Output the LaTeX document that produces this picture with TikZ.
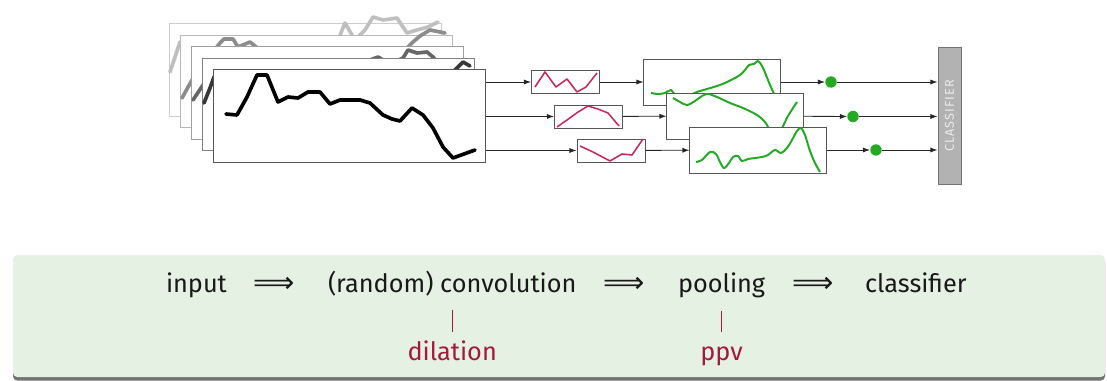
\documentclass[tikz,border=0pt]{standalone}
\usepackage{fontspec}
\setmainfont{Fira Sans}
\newfontfamily\clsfont[LetterSpace=8]{Fira Sans}
\newfontfamily\arrowfont{DejaVu Sans}
\usepackage{tikz}
\usetikzlibrary{arrows.meta,positioning,shadows}
\definecolor{panelgreen}{RGB}{229,241,226}
\definecolor{curvegreen}{RGB}{34,170,34}
\definecolor{kernelred}{RGB}{200,40,95}
\definecolor{labelred}{RGB}{165,25,60}
\definecolor{framegray}{RGB}{85,85,85}
\definecolor{clsgray}{RGB}{178,178,178}

\begin{document}
\begin{tikzpicture}[
        x=0.025cm, y=-0.025cm,
        series/.style={draw=#1, fill=white, line width=0.7pt, minimum width=6.775cm, minimum height=2.3cm, inner sep=0pt},
        kernel/.style={draw=framegray, fill=white, line width=0.7pt, minimum width=1.7cm, minimum height=0.575cm, inner sep=0pt},
        featmap/.style={draw=framegray, fill=white, line width=0.7pt, minimum width=3.4cm, minimum height=1.15cm, inner sep=0pt},
        feat/.style={circle, fill=curvegreen, minimum size=0.285cm, inner sep=0pt},
        classbox/.style={draw=black!55, fill=clsgray, line width=0.7pt, rotate=90, minimum width=3.4cm, minimum height=0.575cm, inner sep=0pt, font=\clsfont\fontsize{9}{10}\selectfont, text=black!8},
        stage/.style={anchor=base west, inner xsep=0pt, inner ysep=10pt, outer sep=0pt, text=black!90, font=\fontsize{18}{22}\selectfont},
        implies/.style={anchor=base west, inner sep=0pt, outer sep=0pt, text=black!90, font=\arrowfont\fontsize{20.5}{22}\selectfont},
        param/.style={anchor=base, text=labelred, inner ysep=6.8pt, text height=13pt, outer sep=0pt, font=\fontsize{18}{22}\selectfont},
        arr/.style={-{Latex[length=5pt,width=3.6pt]}, line width=0.6pt, black!85},
        raw/.style={line width=2.6pt, line join=round, line cap=round},
        kcurve/.style={kernelred, line width=1.1pt, line join=round},
        gcurve/.style={curvegreen, line width=1.4pt, smooth, tension=0.55}
    ]
        \useasboundingbox (0,0) rectangle (1107,381);

        % Panel
        \draw[fill=panelgreen, draw=none, rounded corners=3pt, drop shadow={shadow xshift=0pt, shadow yshift=-2.5pt, fill=black!55, opacity=1}] (13,255) rectangle (1105,377);

        % Input series, back to front
        \node[series=black!20] (series5) at (305.5,70) {};
        \draw[raw, black!25] plot coordinates {(170,72) (180,42) (190,62) (205,70) (230,75) (300,70) (330,60) (345,23) (355,40) (365,30) (373,17) (383,20) (397,18) (407,33) (417,30) (428,27) (438,22)};
        \node[series=black!28] (series4) at (316.5,81.5) {};
        \draw[raw, black!45] plot coordinates {(182,98) (192,80) (205,62) (220,43) (224,39) (233,39) (238,47) (250,42) (260,50) (277,58) (287,57) (320,70) (380,62) (400,55) (413,42) (420,36) (430,30) (445,33)};
        \node[series=black!38] (series3) at (327.5,93) {};
        \draw[raw, black!60] plot coordinates {(193,100) (203,85) (215,72) (240,68) (280,60) (330,75) (378,57) (390,64) (403,58) (408,50) (417,53) (427,52) (433,57) (445,70) (460,66)};
        \node[series=black!50] (series2) at (338.5,104.5) {};
        \draw[raw, black!78] plot coordinates {(204,103) (210,88) (214,77) (260,90) (330,85) (400,95) (440,80) (455,70) (463,62) (470,66)};
        \node[series=framegray] (series1) at (349.5,116) {};
        \draw[raw, black] plot coordinates {(226,114) (237,115) (247,97) (257,75) (267,75) (278,102) (288,97) (298,98) (308,92) (320,92) (330,104) (340,100) (360,100) (370,103) (383,115) (392,119) (400,121) (412,108) (423,115) (433,128) (443,147) (453,158) (475,150)};

        % Random kernels
        \node[kernel] (kern1) at (565.5,82) {};
        \draw[kcurve] plot coordinates {(535,87) (545,72) (556,87) (567,79) (577,92) (586,87) (597,73)};
        \node[kernel] (kern2) at (588.5,116.5) {};
        \draw[kcurve] plot coordinates {(557,127) (567,120) (578,112) (588,106) (598,109) (608,113) (619,126)};
        \node[kernel] (kern3) at (611,150.5) {};
        \draw[kcurve] plot coordinates {(580,146) (593,152) (610,161) (622,154) (632,155) (643,139)};

        % Feature maps
        \node[featmap] (fmap1) at (712,82) {};
        \draw[gcurve] plot coordinates {(651,93) (658,94) (665,93) (671,90) (675,95) (682,97) (690,95) (697,92) (707,89) (717,86) (725,83) (733,79) (740,75) (745,70) (749,65) (754,64) (758,61) (762,66) (766,75) (770,85) (775,96)};
        \node[featmap] (fmap2) at (735,116) {};
        \draw[gcurve] plot coordinates {(673,98) (680,102) (687,105) (695,101) (702,96) (708,94) (717,97) (730,103) (743,108) (757,115) (765,122) (770,130) (777,133) (782,128) (788,116) (797,102)};
        \node[featmap] (fmap3) at (758,150) {};
        \draw[gcurve] plot coordinates {(696,162) (702,160) (710,152) (716,154) (720,162) (724,168) (729,163) (733,157) (738,156) (742,161) (748,159) (755,158) (762,157) (768,155) (775,150) (781,153) (787,148) (792,140) (797,131) (801,128) (805,135) (809,148) (814,161) (820,172)};

        % Pooled features and classifier
        \node[feat] (feat1) at (831,82) {};
        \node[feat] (feat2) at (853,116.5) {};
        \node[feat] (feat3) at (876,150) {};
        \node[classbox] (classif) at (949.5,116) {CLASSIFIER};

        % Connectors
        \draw[arr] (series1.east |- kern1.west) -- (kern1.west);
        \draw[arr] (series1.east |- kern2.west) -- (kern2.west);
        \draw[arr] (series1.east |- kern3.west) -- (kern3.west);
        \draw[arr] (kern1) -- (fmap1);
        \draw[arr] (kern2) -- (fmap2);
        \draw[arr] (kern3) -- (fmap3);
        \draw[arr] (fmap1) -- (feat1);
        \draw[arr] (fmap2) -- (feat2);
        \draw[arr] (fmap3) -- (feat3);
        \draw[arr] (feat1) -- (feat1 -| classif.north);
        \draw[arr] (feat2) -- (feat2 -| classif.north);
        \draw[arr] (feat3) -- (feat3 -| classif.north);

        % Pipeline
        \coordinate (labrow) at (0,360);
        \node[stage] (input) at (166,292) {input};
        \node[implies] (to1) at (253,292) {⟹};
        \node[stage] (conv) at (328,292) {(random) convolution};
        \node[implies] (to2) at (603,292) {⟹};
        \node[stage] (pool) at (678,292) {pooling};
        \node[implies] (to3) at (792,292) {⟹};
        \node[stage] (classify) at (865,292) {classifier};
        \node[param] (dil) at (conv.south |- labrow) {dilation};
        \node[param] (ppv) at (pool.south |- labrow) {ppv};
        \draw[labelred, line width=0.8pt] (conv.south) -- (dil.north);
        \draw[labelred, line width=0.8pt] (pool.south) -- (ppv.north);
    \end{tikzpicture}
\end{document}
